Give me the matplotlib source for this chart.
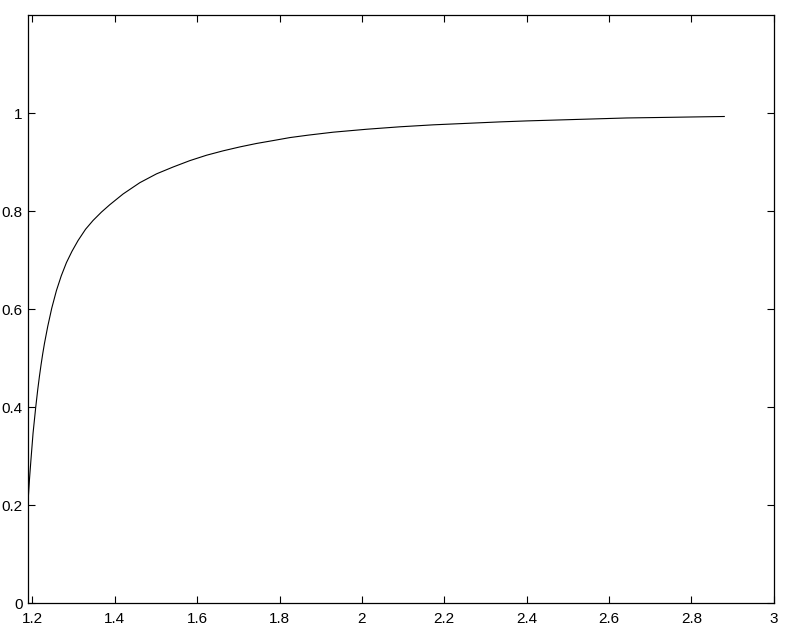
import matplotlib
matplotlib.use('Agg')
import matplotlib.pyplot as plt

# Values
x_vals = [1.1888, 1.1930, 1.1966, 1.2015, 1.2080, 1.2129, 1.2170, 1.2210,
          1.2250, 1.2292, 1.2372, 1.2469, 1.2583, 1.2700, 1.2826, 1.2960,
          1.3108, 1.3290, 1.3473, 1.3676, 1.3878, 1.4202, 1.4608, 1.5013,
          1.5417, 1.5823, 1.6228, 1.6632, 1.7040, 1.7443, 1.7853, 1.8253,
          1.8700, 1.9305, 2.0117, 2.0926, 2.1735, 2.2547, 2.3356, 2.4005,
          2.4810, 2.5620, 2.6430, 2.7245, 2.8000, 2.8800]
y_vals = [0.200, 0.255, 0.295, 0.347, 0.400, 0.436, 0.463, 0.487,
          0.509, 0.530, 0.565, 0.602, 0.638, 0.668, 0.695, 0.718,
          0.740, 0.763, 0.781, 0.798, 0.813, 0.835, 0.858, 0.876,
          0.890, 0.903, 0.914, 0.923, 0.931, 0.938, 0.944, 0.950,
          0.955, 0.961, 0.967, 0.972, 0.976, 0.979, 0.982, 0.984,
          0.986, 0.988, 0.990, 0.991, 0.992, 0.993]

x_ticks = [1.2, 1.4, 1.6, 1.8, 2.0, 2.2, 2.4, 2.6, 2.8, 3.0]
x_labels = ['1.2', '1.4', '1.6', '1.8', '2', '2.2', '2.4', '2.6', '2.8', '3']
y_ticks = [0, 0.2, 0.4, 0.6, 0.8, 1.0]
y_labels = ['0', '0.2', '0.4', '0.6', '0.8', '1']

plt.rcParams['font.family'] = ['Liberation Sans', 'DejaVu Sans']
plt.rcParams['font.size'] = 11

fig = plt.figure(figsize=(7.85, 6.28), dpi=100)
ax = fig.add_axes([0.0357, 0.0393, 0.9499, 0.9368])
ax.plot(x_vals, y_vals, color='black', linewidth=0.8)

ax.set_xlim(1.1893, 3.0)
ax.set_ylim(0, 1.2)
ax.set_xticks(x_ticks)
ax.set_xticklabels(x_labels)
ax.set_yticks(y_ticks)
ax.set_yticklabels(y_labels)
ax.tick_params(direction='in', top=True, right=True, length=5, width=0.8)
ax.tick_params(axis='x', pad=6)
ax.tick_params(axis='y', pad=4)
for s in ax.spines.values():
    s.set_linewidth(0.9)

fig.savefig('out.png', dpi=100)
